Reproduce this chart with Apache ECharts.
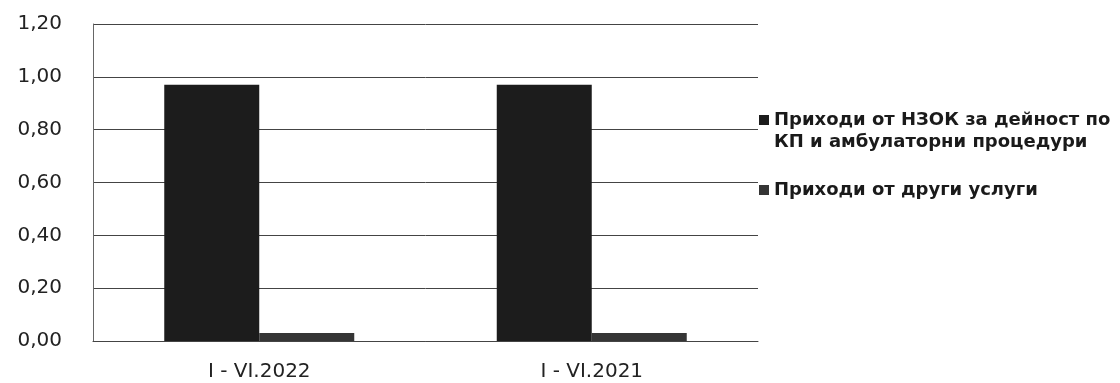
<!DOCTYPE html>
<html>
<head>
<meta charset="utf-8">
<script src="https://cdn.jsdelivr.net/npm/echarts@6/dist/echarts.min.js"></script>
<style>
  html, body { margin: 0; padding: 0; background: #fff; }
  #chart { width: 1120px; height: 383px; }
</style>
</head>
<body>
<div id="chart"></div>
<script>
// periods on the x axis
const periods = ["I - VI.2022", "I - VI.2021"];
// share of revenue per source
const nzokRevenue = [0.97, 0.97];
const otherRevenue = [0.03, 0.03];
const seriesNames = [
  "Приходи от НЗОК за дейност по\nКП и амбулаторни процедури",
  "Приходи от други услуги",
];

const chart = echarts.init(document.getElementById("chart"));

const legendText = {
  fontFamily: "DejaVu Sans",
  fontSize: 18,
  fontWeight: "bold",
  color: "#1a1a1a",
  lineHeight: 22,
};

const option = {
  animation: false,
  textStyle: { fontFamily: "DejaVu Sans" },
  grid: { left: 93, right: 362, top: 24, bottom: 42 },
  legend: [
    {
      // square sits on the first text line, so the icon path is padded below
      orient: "vertical",
      left: 754,
      top: 104,
      itemWidth: 10,
      itemHeight: 32,
      icon: "path://M0,0L10,0L10,10L0,10Z M0,32L0.01,32L0,32.01Z",
      textStyle: legendText,
      data: [seriesNames[0]],
    },
    {
      orient: "vertical",
      left: 754,
      top: 174,
      itemWidth: 10,
      itemHeight: 10,
      icon: "rect",
      textStyle: legendText,
      data: [seriesNames[1]],
    },
  ],
  xAxis: {
    type: "category",
    data: periods,
    axisTick: { show: false },
    axisLine: { lineStyle: { color: "#444", width: 1 } },
    axisLabel: { fontSize: 20, color: "#222", margin: 21 },
  },
  yAxis: {
    type: "value",
    min: 0,
    max: 1.2,
    interval: 0.2,
    axisLine: { show: true, lineStyle: { color: "#666", width: 1 } },
    splitLine: { lineStyle: { color: "#444", width: 1 } },
    axisLabel: {
      fontSize: 20,
      color: "#222",
      margin: 31,
      formatter: (v) => v.toFixed(2).replace(".", ","),
    },
  },
  series: [
    {
      name: seriesNames[0],
      type: "bar",
      data: nzokRevenue,
      barWidth: 95,
      barGap: "0%",
      itemStyle: { color: "#1c1c1c" },
    },
    {
      name: seriesNames[1],
      type: "bar",
      data: otherRevenue,
      barWidth: 95,
      itemStyle: { color: "#353535" },
    },
  ],
};

chart.setOption(option);
</script>
</body>
</html>
